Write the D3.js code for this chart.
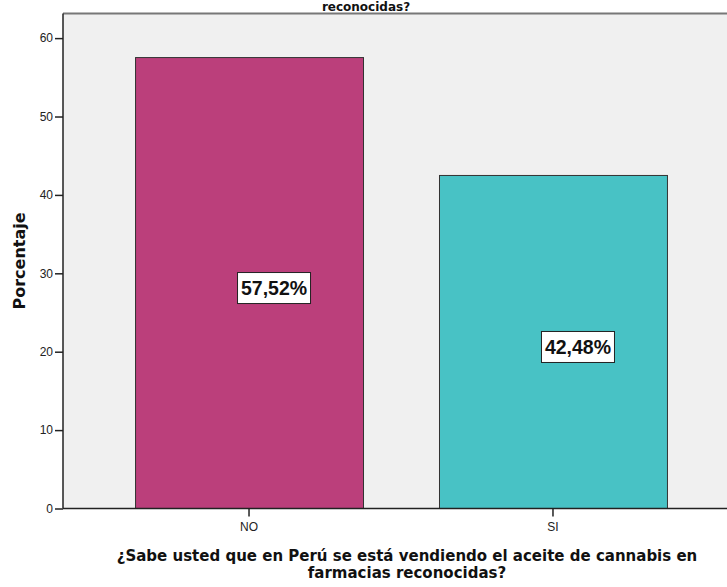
<!DOCTYPE html>
<html>
<head>
<meta charset="utf-8">
<script src="https://cdn.jsdelivr.net/npm/d3@7"></script>
<style>
  html, body { margin: 0; padding: 0; background: #fff; }
  svg { display: block; }
</style>
</head>
<body>
<svg id="chart" width="727" height="587"></svg>
<script>
// Respuestas y porcentajes
const categories = ["NO", "SI"];
const percentages = [57.52, 42.48];
const valueLabels = ["57,52%", "42,48%"];
const barColors = ["#bb3f7b", "#48c2c5"];
const yTicks = [0, 10, 20, 30, 40, 50, 60];

const svg = d3.select("#chart");
const W = 727, H = 587;
const plot = { left: 63, right: 739, top: 13.5, bottom: 508.5 };

const x = d3.scaleBand()
  .domain(categories)
  .range([plot.left, plot.right])
  .paddingInner(0.25)
  .paddingOuter(0.237);

const y = d3.scaleLinear()
  .domain([0, 63.14])
  .range([plot.bottom, plot.top]);

// plot background
svg.append("rect")
  .attr("x", plot.left).attr("y", plot.top)
  .attr("width", W - plot.left).attr("height", plot.bottom - plot.top)
  .attr("fill", "#f0f0f0");

// top frame line
svg.append("line")
  .attr("x1", plot.left).attr("x2", W)
  .attr("y1", plot.top).attr("y2", plot.top)
  .attr("stroke", "#777").attr("stroke-width", 2);

// bars
svg.append("g").selectAll("rect")
  .data(categories)
  .join("rect")
  .attr("x", d => x(d) + 0.5)
  .attr("y", (d, i) => y(percentages[i]))
  .attr("width", x.bandwidth())
  .attr("height", (d, i) => y(0) - y(percentages[i]))
  .attr("fill", (d, i) => barColors[i])
  .attr("stroke", "#333")
  .attr("stroke-width", 1);

// y axis
const yAxis = svg.append("g")
  .attr("transform", `translate(${plot.left},0)`)
  .call(d3.axisLeft(y).tickValues(yTicks).tickSize(8).tickPadding(2).tickFormat(d3.format("d")));
yAxis.select(".domain").attr("stroke", "#222").attr("stroke-width", 1.5)
  .attr("d", `M0,${plot.top}V${plot.bottom}`);
yAxis.selectAll(".tick line").attr("stroke", "#222").attr("stroke-width", 1.5);
yAxis.selectAll(".tick text")
  .attr("font-family", "Liberation Sans, Arial, sans-serif")
  .attr("font-size", 12).attr("fill", "#222");

// x axis
const xAxis = svg.append("g")
  .attr("transform", `translate(0,${plot.bottom})`)
  .call(d3.axisBottom(x).tickSize(8).tickPadding(6));
xAxis.select(".domain").attr("stroke", "#222").attr("stroke-width", 1.5)
  .attr("d", `M${plot.left},0H${W}`);
xAxis.selectAll(".tick line").attr("stroke", "#222").attr("stroke-width", 1.5);
xAxis.selectAll(".tick text")
  .attr("font-family", "Liberation Sans, Arial, sans-serif")
  .attr("font-size", 12).attr("fill", "#222");

// value labels in boxes
const labelOffset = 25;
const lg = svg.append("g").selectAll("g")
  .data(categories)
  .join("g")
  .attr("transform", (d, i) =>
    `translate(${x(d) + x.bandwidth() / 2 + labelOffset},${y(percentages[i] / 2) + 5})`);
lg.append("rect")
  .attr("x", -36.5).attr("y", -15.5)
  .attr("width", 73).attr("height", 31)
  .attr("fill", "#fff").attr("stroke", "#222").attr("stroke-width", 1);
lg.append("text")
  .attr("text-anchor", "middle")
  .attr("dy", "0.36em")
  .attr("font-family", "Liberation Sans, Arial, sans-serif")
  .attr("font-weight", "bold")
  .attr("font-size", 19.5)
  .attr("fill", "#111")
  .text((d, i) => valueLabels[i]);

// y axis title
svg.append("text")
  .attr("transform", `translate(25,${(plot.top + plot.bottom) / 2}) rotate(-90)`)
  .attr("text-anchor", "middle")
  .attr("font-family", "DejaVu Sans, sans-serif")
  .attr("font-weight", "bold")
  .attr("font-size", 16)
  .attr("fill", "#111")
  .text("Porcentaje");

// x axis title
const xt = svg.append("text")
  .attr("text-anchor", "middle")
  .attr("font-family", "DejaVu Sans, sans-serif")
  .attr("font-weight", "bold")
  .attr("font-size", 15)
  .attr("fill", "#111");
xt.append("tspan").attr("x", 407).attr("y", 561)
  .text("¿Sabe usted que en Perú se está vendiendo el aceite de cannabis en");
xt.append("tspan").attr("x", 407).attr("y", 578)
  .text("farmacias reconocidas?");

// chart title (last line)
svg.append("text")
  .attr("x", 366).attr("y", 11)
  .attr("text-anchor", "middle")
  .attr("font-family", "DejaVu Sans, sans-serif")
  .attr("font-weight", "bold")
  .attr("font-size", 12)
  .attr("fill", "#111")
  .text("reconocidas?");
</script>
</body>
</html>
